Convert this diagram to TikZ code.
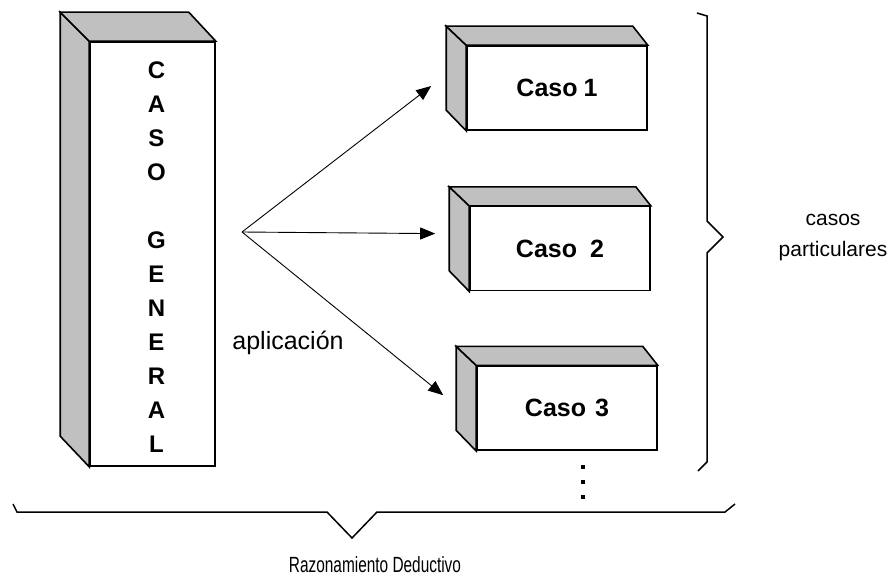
\documentclass[tikz,border=0pt]{standalone}
\usepackage{fontspec}
\setmainfont{Liberation Sans}
\usetikzlibrary{arrows.meta, positioning, calc}
\definecolor{cajaGris}{RGB}{192,192,192}

\begin{document}
\begin{tikzpicture}[
    x=1pt, y=-1pt,
    frontbox/.style={draw=black, fill=white, rectangle, line width=1.6pt, inner sep=0pt, minimum width=180pt, minimum height=84pt, font=\fontsize{25}{30}\selectfont\bfseries},
    cara/.style={draw=black, fill=cajaGris, line width=1.6pt, line join=miter},
    arrow/.style={-{Triangle[length=15pt,width=12pt]}, line width=0.9pt, draw=black},
    brace/.style={draw=black, line width=1.5pt},
    etiqueta/.style={align=center, font=\fontsize{21}{31}\selectfont}
]
\useasboundingbox (0,0) rectangle (891,583);

% General case column
\node (general) [frontbox, minimum width=125pt, minimum height=424pt] at (152.5,254) {};
\node (letras) [align=center, inner sep=0pt, font=\fontsize{24}{34}\selectfont\bfseries] at ($(general.center)+(4,3)$) {C\\A\\S\\O\\\mbox{}\\G\\E\\N\\E\\R\\A\\L};
\draw [cara] (general.north west) -- ++(-29,-29) -- ++(0,424) -- (general.south west) -- cycle;
\draw [cara] (general.north west) -- ++(-29,-29) -- ($(general.north east)+(-27,-29)$) -- (general.north east) -- cycle;

% Particular cases
\node (caso_1) [frontbox] at (557,88) {Caso\hspace{6pt}1};
\node (caso_2) [frontbox, below=75pt of caso_1, xshift=3pt] {Caso\hspace{13pt}2};
\node (caso_3) [frontbox, below=74pt of caso_2, xshift=7pt] {Caso\hspace{9pt}3};

\draw [cara] (caso_1.north west) -- ++(-20,-19) -- ++(0,84) -- (caso_1.south west) -- cycle;
\draw [cara] (caso_1.north west) -- ++(-20,-19) -- ($(caso_1.north east)+(-15,-19)$) -- (caso_1.north east) -- cycle;
\draw [cara] (caso_2.north west) -- ++(-20,-19) -- ++(0,84) -- (caso_2.south west) -- cycle;
\draw [cara] (caso_2.north west) -- ++(-20,-19) -- ($(caso_2.north east)+(-15,-19)$) -- (caso_2.north east) -- cycle;
\draw [cara] (caso_3.north west) -- ++(-20,-19) -- ++(0,84) -- (caso_3.south west) -- cycle;
\draw [cara] (caso_3.north west) -- ++(-20,-19) -- ($(caso_3.north east)+(-15,-19)$) -- (caso_3.north east) -- cycle;

\fill ($(caso_3.south)+(14,14)$) rectangle ++(4,4);
\fill ($(caso_3.south)+(14,29)$) rectangle ++(4,4);
\fill ($(caso_3.south)+(14,44)$) rectangle ++(4,4);

% Application arrows
\coordinate (src) at (242,232);
\coordinate (tip_1) at ($(caso_1.west)+(-35,-2)$);
\coordinate (tip_2) at ($(caso_2.west)+(-34,-15)$);
\coordinate (tip_3) at ($(caso_3.west)+(-33,-13)$);
\draw [arrow] (src) -- (tip_1);
\draw [arrow] (src) -- (tip_2);
\draw [arrow] (src) -- (tip_3);
\node (aplic) [etiqueta, font=\fontsize{25}{30}\selectfont] at (288,343) {aplicación};

% Braces
\draw [brace] (697,13) -- (707,16) -- (707,221) -- (723,237) -- (707,253) -- (707,462) -- (698,471);
\node (casos) [etiqueta] at (833,238) {casos\\particulares};
\draw [brace] (13,504) -- (17,512) -- (327,512) -- (352,538) -- (377,512) -- (725,512) -- (735,504);
\node (razon) [etiqueta, font=\fontsize{22}{26}\selectfont] at (375,565) {\scalebox{0.7}[1]{Razonamiento Deductivo}};

\end{tikzpicture}
\end{document}
